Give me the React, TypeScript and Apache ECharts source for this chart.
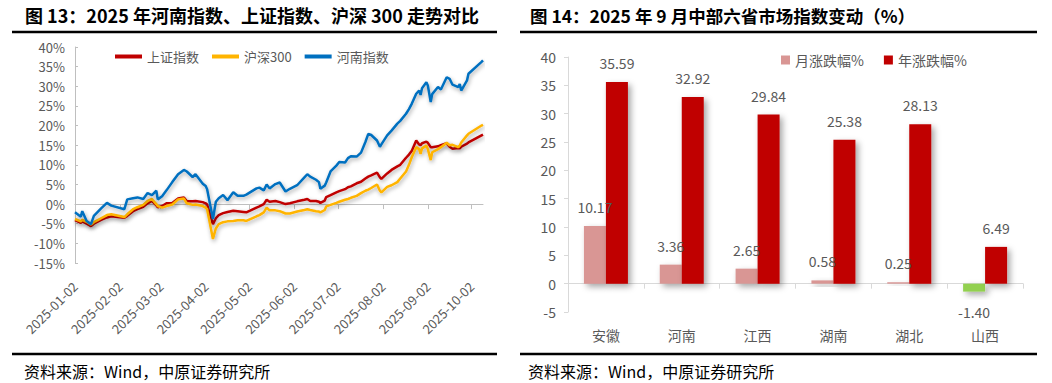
import React, { useEffect, useRef } from "react";
import * as echarts from "echarts";

const FONT = '"Noto Sans CJK SC", "Noto Sans", sans-serif';

// ---- Left chart data (cumulative change since 2025-01-02, %) ----
const dates = [
  "2025-01-02", "2025-01-06", "2025-01-07", "2025-01-10", "2025-01-13", "2025-01-15", "2025-01-20", "2025-01-24", "2025-01-27", "2025-02-05",
  "2025-02-07", "2025-02-11", "2025-02-14", "2025-02-18", "2025-02-21", "2025-02-24", "2025-02-27", "2025-02-28", "2025-03-03", "2025-03-06",
  "2025-03-10", "2025-03-14", "2025-03-18", "2025-03-20", "2025-03-24", "2025-03-26", "2025-03-31", "2025-04-02", "2025-04-03", "2025-04-07",
  "2025-04-09", "2025-04-11", "2025-04-14", "2025-04-17", "2025-04-21", "2025-04-24", "2025-04-28", "2025-04-30", "2025-05-07", "2025-05-09",
  "2025-05-12", "2025-05-14", "2025-05-16", "2025-05-20", "2025-05-23", "2025-05-27", "2025-05-30", "2025-06-04", "2025-06-09", "2025-06-11",
  "2025-06-13", "2025-06-17", "2025-06-19", "2025-06-20", "2025-06-23", "2025-06-24", "2025-06-27", "2025-07-01", "2025-07-03", "2025-07-07",
  "2025-07-09", "2025-07-11", "2025-07-15", "2025-07-18", "2025-07-21", "2025-07-23", "2025-07-25", "2025-07-29", "2025-07-31", "2025-08-01",
  "2025-08-05", "2025-08-08", "2025-08-12", "2025-08-14", "2025-08-18", "2025-08-20", "2025-08-22", "2025-08-25", "2025-08-27", "2025-08-28",
  "2025-08-29", "2025-09-01", "2025-09-02", "2025-09-04", "2025-09-05", "2025-09-09", "2025-09-11", "2025-09-15", "2025-09-17", "2025-09-19",
  "2025-09-23", "2025-09-24", "2025-09-25", "2025-09-29", "2025-09-30", "2025-10-09", "2025-10-10",
];

const shanghaiIndex = [
  -4.1, -4.8, -4.4, -5.0, -5.6, -5.0, -4.0, -3.4, -3.1, -3.5,
  -3.0, -1.8, -1.3, -0.7, 0.2, 0.8, -0.3, -0.8, -0.5, 0.2,
  0.3, 1.4, 1.7, 0.7, 0.7, 0.8, 0.5, 0.2, -0.1, -5.1,
  -3.6, -2.8, -2.3, -2.0, -1.7, -1.8, -2.0, -2.1, -0.9, -0.6,
  0.0, 1.1, 0.6, 0.8, 0.5, 0.0, 0.2, 0.7, 1.1, 1.3,
  0.8, 0.8, 0.6, 0.3, 0.9, 1.8, 2.3, 3.0, 3.3, 3.8,
  4.3, 4.5, 5.3, 5.7, 6.5, 7.0, 7.3, 8.0, 6.8, 6.4,
  7.8, 8.7, 9.6, 10.0, 11.8, 12.6, 13.6, 16.2, 15.2, 15.0,
  15.5, 15.9, 15.6, 14.5, 14.5, 14.7, 15.0, 15.5, 14.6, 14.1,
  14.3, 14.2, 14.6, 15.4, 15.7, 17.5, 17.7,
];

const csi300 = [
  -3.8, -4.4, -4.0, -4.5, -5.2, -4.6, -3.6, -2.8, -2.6, -3.3,
  -2.6, -1.3, -0.8, -0.2, 0.8, 1.3, 0.0, -0.5, -0.9, -0.5,
  -0.1, 1.2, 1.4, 0.2, -0.2, -0.1, -0.5, -0.9, -1.3, -8.9,
  -6.2, -5.1, -4.6, -4.4, -4.3, -4.1, -4.1, -4.3, -3.1, -2.8,
  -2.1, -0.9, -1.6, -1.6, -1.8, -2.4, -2.4, -1.9, -1.5, -1.3,
  -1.5, -1.8, -1.9, -2.1, -1.5, -0.6, -0.2, 0.3, 0.6, 1.1,
  1.3, 1.6, 2.1, 2.8, 3.4, 3.7, 4.1, 5.0, 3.4, 3.0,
  4.4, 4.8, 5.6, 6.5, 8.3, 10.0, 12.0, 14.5, 14.0, 12.8,
  14.2, 14.9, 14.0, 11.2, 13.2, 14.0, 14.5, 15.6, 15.0, 15.1,
  14.5, 14.9, 15.7, 17.5, 17.9, 20.0, 20.2,
];

const henanIndex = [
  -2.1, -3.2, -1.8, -4.3, -5.1, -3.0, -1.1, 0.3, -0.4, -1.3,
  1.2, 1.5, 1.7, 1.3, 2.8, 2.3, 3.4, 1.2, 2.0, 3.5,
  5.6, 7.6, 8.7, 8.3, 6.9, 7.6, 5.2, 4.6, 3.8, -3.8,
  0.6, 1.5, 2.3, 1.0, 3.0, 2.1, 2.1, 2.4, 4.0, 4.2,
  3.5, 5.0, 4.0, 5.1, 5.5, 3.2, 3.9, 4.8, 6.8, 7.6,
  7.0, 6.2, 5.6, 3.9, 4.7, 5.5, 8.3, 9.8, 10.7, 10.6,
  11.7, 12.2, 12.1, 13.1, 15.8, 17.9, 17.6, 16.2, 14.6, 15.2,
  17.5, 18.7, 20.5, 21.2, 23.0, 24.2, 25.6, 28.1, 28.9, 27.8,
  29.5, 31.0, 30.2, 26.0, 28.0, 29.8, 29.2, 32.3, 31.9, 30.4,
  29.8, 30.6, 28.9, 31.5, 33.2, 36.2, 36.6,
];

const dateTicks = [
  "2025-01-02", "2025-02-02", "2025-03-02", "2025-04-02", "2025-05-02",
  "2025-06-02", "2025-07-02", "2025-08-02", "2025-09-02", "2025-10-02",
];
const dateMin = "2025-01-02";
const dateMax = "2025-10-10";

// ---- Right chart data ----
const provinces = ["安徽", "河南", "江西", "湖南", "湖北", "山西"];
const monthChange = [10.17, 3.36, 2.65, 0.58, 0.25, -1.4];
const yearChange = [35.59, 32.92, 29.84, 25.38, 28.13, 6.49];

const leftTitle = "图 13：2025 年河南指数、上证指数、沪深 300 走势对比";
const rightTitle = "图 14：2025 年 9 月中部六省市场指数变动（%）";
const sourceNote = "资料来源：Wind，中原证券研究所";

export default function App() {
  const ref = useRef<HTMLDivElement>(null);

  useEffect(() => {
    if (!ref.current) return;
    const chart = echarts.init(ref.current, null, { renderer: "svg" });
    const parse = (s: string) => echarts.number.parseDate(s).getTime();
    const tickTimes = dateTicks.map(parse);
    const fmtDate = (v: number) => {
      let best = 0;
      for (let i = 1; i < tickTimes.length; i++) {
        if (Math.abs(tickTimes[i] - v) < Math.abs(tickTimes[best] - v)) best = i;
      }
      return dateTicks[best];
    };
    const grey = "#595959";
    const axisGrey = "#BFBFBF";
    const lineShadow = {
      shadowColor: "rgba(0,0,0,0.35)",
      shadowBlur: 4,
      shadowOffsetX: 1,
      shadowOffsetY: 2,
    };
    const barShadow = {
      shadowColor: "rgba(0,0,0,0.35)",
      shadowBlur: 6,
      shadowOffsetX: 3,
      shadowOffsetY: 3,
    };
    const mkLine = (name: string, vals: number[], color: string) => ({
      name,
      type: "line",
      xAxisIndex: 0,
      yAxisIndex: 0,
      showSymbol: false,
      symbol: "none",
      data: dates.map((d, i) => [parse(d), vals[i]]),
      lineStyle: { width: 2.5, color, ...lineShadow },
      itemStyle: { color },
    });

    const option: any = {
      animation: false,
      textStyle: { fontFamily: FONT },
      grid: [
        { left: 75, right: 569, top: 47, bottom: 120, outerBoundsMode: "none", containLabel: false },
        { left: 568, right: 29, top: 57, bottom: 71, outerBoundsMode: "none", containLabel: false },
      ],
      legend: [
        {
          data: ["上证指数", "沪深300", "河南指数"],
          left: 110,
          top: 45,
          icon: "rect",
          itemWidth: 27,
          itemHeight: 4,
          itemGap: 13,
          textStyle: { fontSize: 13, color: grey, fontFamily: FONT },
        },
        {
          data: ["月涨跌幅%", "年涨跌幅%"],
          left: 776,
          top: 48,
          icon: "rect",
          itemWidth: 9,
          itemHeight: 9,
          itemGap: 20,
          textStyle: { fontSize: 14, color: grey, fontFamily: FONT },
        },
      ],
      xAxis: [
        {
          type: "value",
          gridIndex: 0,
          min: parse(dateMin),
          max: parse(dateMax),
          axisLine: { onZero: true, lineStyle: { color: axisGrey, width: 1 } },
          axisTick: { show: true, customValues: tickTimes, length: 5, lineStyle: { color: axisGrey } },
          axisLabel: {
            customValues: tickTimes,
            rotate: 45,
            margin: 21,
            formatter: (v: number) => fmtDate(v),
            color: grey,
            fontSize: 13,
            fontFamily: FONT,
          },
          splitLine: { show: false },
        },
        {
          type: "category",
          gridIndex: 1,
          data: provinces,
          axisLine: { onZero: true, lineStyle: { color: "#D9D9D9" } },
          axisTick: { show: true, length: 5, lineStyle: { color: "#D9D9D9" } },
          axisLabel: { margin: 16, fontSize: 14, color: grey, fontFamily: FONT },
        },
      ],
      yAxis: [
        {
          type: "value",
          gridIndex: 0,
          min: -15,
          max: 40,
          interval: 5,
          axisLine: { show: true, lineStyle: { color: axisGrey } },
          axisTick: { show: true, inside: true, length: 3, lineStyle: { color: axisGrey } },
          axisLabel: { formatter: "{value}%", color: grey, fontSize: 13, margin: 10, fontFamily: FONT },
          splitLine: { show: false },
        },
        {
          type: "value",
          gridIndex: 1,
          min: -5,
          max: 40,
          interval: 5,
          axisLine: { show: true, lineStyle: { color: "#D9D9D9" } },
          axisTick: { show: true, length: 4, lineStyle: { color: "#D9D9D9" } },
          axisLabel: { color: grey, fontSize: 14, margin: 12, fontFamily: FONT },
          splitLine: { show: false },
        },
      ],
      series: [
        mkLine("上证指数", shanghaiIndex, "#C00000"),
        mkLine("沪深300", csi300, "#FFB400"),
        mkLine("河南指数", henanIndex, "#0070C0"),
        {
          name: "月涨跌幅%",
          type: "bar",
          xAxisIndex: 1,
          yAxisIndex: 1,
          barWidth: 22,
          barGap: "0%",
          itemStyle: { color: "#D99694", ...barShadow },
          label: {
            show: true,
            position: "top",
            distance: 12,
            fontSize: 14,
            color: grey,
            fontFamily: FONT,
            formatter: (p: any) => Number(p.value).toFixed(2),
          },
          data: monthChange.map((v) =>
            v < 0
              ? { value: v, itemStyle: { color: "#92D050" }, label: { position: "bottom", distance: 13 } }
              : v
          ),
        },
        {
          name: "年涨跌幅%",
          type: "bar",
          xAxisIndex: 1,
          yAxisIndex: 1,
          barWidth: 22,
          barGap: "0%",
          itemStyle: { color: "#C00000", ...barShadow },
          label: {
            show: true,
            position: "top",
            distance: 12,
            fontSize: 14,
            color: grey,
            fontFamily: FONT,
            formatter: (p: any) => Number(p.value).toFixed(2),
          },
          data: yearChange,
        },
      ],
      graphic: [
        {
          type: "text",
          x: 25,
          y: 15,
          style: { text: leftTitle, fontSize: 18, fontWeight: "bold", fontFamily: FONT, fill: "#000", verticalAlign: "middle" },
        },
        {
          type: "text",
          x: 530,
          y: 15,
          style: { text: rightTitle, fontSize: 17.5, fontWeight: "bold", fontFamily: FONT, fill: "#000", verticalAlign: "middle" },
        },
        { type: "line", shape: { x1: 12, y1: 32, x2: 497, y2: 32 }, style: { stroke: "#000", lineWidth: 2.5 } },
        { type: "line", shape: { x1: 520, y1: 32, x2: 1037, y2: 32 }, style: { stroke: "#000", lineWidth: 2.5 } },
        { type: "line", shape: { x1: 12, y1: 354, x2: 497, y2: 354 }, style: { stroke: "#000", lineWidth: 2.5 } },
        { type: "line", shape: { x1: 520, y1: 354, x2: 1037, y2: 354 }, style: { stroke: "#000", lineWidth: 2.5 } },
        {
          type: "text",
          x: 24,
          y: 371,
          style: { text: sourceNote, fontSize: 16, fontFamily: FONT, fill: "#000", verticalAlign: "middle" },
        },
        {
          type: "text",
          x: 528,
          y: 371,
          style: { text: sourceNote, fontSize: 16, fontFamily: FONT, fill: "#000", verticalAlign: "middle" },
        },
      ],
    };
    chart.setOption(option);
    return () => chart.dispose();
  }, []);

  return (
    <div
      ref={ref}
      style={{ position: "fixed", left: 0, top: 0, width: 1052, height: 383, background: "#fff" }}
    />
  );
}
